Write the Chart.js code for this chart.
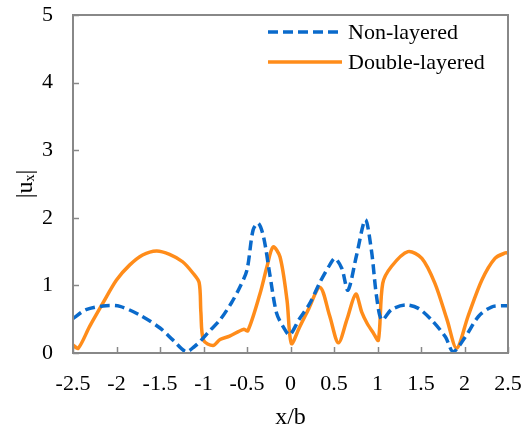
<!DOCTYPE html>
<html>
<head>
<meta charset="utf-8">
<script src="https://cdn.jsdelivr.net/npm/chart.js@4/dist/chart.umd.min.js"></script>
<style>
html,body{margin:0;padding:0;background:#fff;}
#wrap{width:524px;height:433px;position:relative;}
</style>
</head>
<body>
<div id="wrap"><canvas id="c" width="524" height="433"></canvas></div>
<script>
const seriesNames = ["Non-layered", "Double-layered"];
const xTickValues = [-2.5, -2, -1.5, -1, -0.5, 0, 0.5, 1, 1.5, 2, 2.5];
const yTickValues = [0, 1, 2, 3, 4, 5];

const nonLayeredX = [-2.5, -2.35, -2.12, -1.96, -1.73, -1.5, -1.35, -1.2, -1.1, -1.04, -0.95, -0.81, -0.68, -0.58, -0.5, -0.43, -0.37, -0.31, -0.24, -0.16, -0.08, -0.01, 0.1, 0.22, 0.34, 0.45, 0.51, 0.59, 0.66, 0.76, 0.86, 0.93, 0.99, 1.05, 1.16, 1.32, 1.47, 1.62, 1.78, 1.87, 2.01, 2.16, 2.31, 2.47, 2.5];
const nonLayeredY = [0.51, 0.64, 0.70, 0.69, 0.56, 0.37, 0.19, 0.02, 0.10, 0.17, 0.30, 0.49, 0.74, 0.98, 1.23, 1.82, 1.92, 1.72, 1.18, 0.59, 0.38, 0.27, 0.50, 0.73, 1.05, 1.30, 1.40, 1.25, 0.93, 1.45, 1.97, 1.52, 0.83, 0.49, 0.64, 0.71, 0.66, 0.49, 0.24, 0.02, 0.24, 0.54, 0.68, 0.70, 0.70];

const doubleLayeredX = [-2.5, -2.44, -2.31, -2.16, -2.0, -1.85, -1.7, -1.54, -1.39, -1.24, -1.12, -1.05, -1.03, -1.0, -0.89, -0.81, -0.7, -0.54, -0.49, -0.35, -0.27, -0.2, -0.12, -0.04, 0.01, 0.1, 0.2, 0.34, 0.45, 0.55, 0.65, 0.75, 0.82, 0.88, 0.95, 1.01, 1.06, 1.16, 1.35, 1.51, 1.66, 1.8, 1.91, 2.04, 2.2, 2.35, 2.47, 2.5];
const doubleLayeredY = [0.12, 0.07, 0.39, 0.73, 1.08, 1.30, 1.45, 1.51, 1.46, 1.35, 1.18, 1.04, 0.60, 0.19, 0.11, 0.20, 0.25, 0.35, 0.33, 0.88, 1.28, 1.57, 1.42, 0.78, 0.14, 0.37, 0.63, 0.97, 0.55, 0.15, 0.50, 0.87, 0.60, 0.44, 0.30, 0.19, 1.03, 1.28, 1.50, 1.40, 1.03, 0.49, 0.07, 0.54, 1.08, 1.40, 1.48, 1.48];

const BLUE = '#0A6ACB';
const ORANGE = '#FF8C1A';
const AXIS = '#888888';
const FONT = '"Liberation Serif", "Times New Roman", serif';

const toPts = (xs, ys) => xs.map((x, i) => ({x: x, y: ys[i]}));

const frameAndLegend = {
  id: 'frameAndLegend',
  afterDraw(chart) {
    const ctx = chart.ctx;
    const a = chart.chartArea;
    const xs = chart.scales.x, ys = chart.scales.y;
    ctx.save();
    ctx.strokeStyle = AXIS;
    ctx.lineWidth = 1.5;
    xTickValues.forEach(v => {
      const px = Math.round(xs.getPixelForValue(v)) + 0.5;
      ctx.beginPath(); ctx.moveTo(px, a.bottom); ctx.lineTo(px, a.bottom - 6); ctx.stroke();
    });
    yTickValues.forEach(v => {
      const py = Math.round(ys.getPixelForValue(v)) + 0.5;
      ctx.beginPath(); ctx.moveTo(a.left, py); ctx.lineTo(a.left + 6, py); ctx.stroke();
    });
    ctx.lineWidth = 2;
    ctx.strokeRect(a.left, a.top, a.right - a.left, a.bottom - a.top);
    const lx0 = a.left + 195, lx1 = a.left + 269, tx = a.left + 275;
    const rows = [a.top + 17, a.top + 47];
    chart.data.datasets.forEach((ds, i) => {
      const yy = rows[i];
      ctx.strokeStyle = ds.borderColor;
      ctx.lineWidth = ds.borderWidth;
      ctx.setLineDash(ds.borderDash || []);
      ctx.beginPath(); ctx.moveTo(lx0, yy); ctx.lineTo(lx1, yy); ctx.stroke();
      ctx.setLineDash([]);
      ctx.fillStyle = '#000';
      ctx.font = '22px ' + FONT;
      ctx.textBaseline = 'middle';
      ctx.textAlign = 'left';
      ctx.fillText(ds.label, tx, yy + 1);
    });
    ctx.restore();
  }
};

const zeroPad = s => { s.paddingLeft = 0; s.paddingRight = 0; s.paddingTop = 0; s.paddingBottom = 0; };

new Chart(document.getElementById('c'), {
  type: 'line',
  data: {
    datasets: [
      {
        label: seriesNames[0],
        data: toPts(nonLayeredX, nonLayeredY),
        borderColor: BLUE,
        borderWidth: 3.5,
        borderDash: [10, 5],
        pointRadius: 0,
        tension: 0.3,
        fill: false
      },
      {
        label: seriesNames[1],
        data: toPts(doubleLayeredX, doubleLayeredY),
        borderColor: ORANGE,
        borderWidth: 3.5,
        pointRadius: 0,
        tension: 0.3,
        fill: false
      }
    ]
  },
  options: {
    responsive: false,
    animation: false,
    events: [],
    layout: { padding: { top: 15, right: 16, left: 0, bottom: 0 } },
    plugins: { legend: { display: false }, tooltip: { enabled: false }, title: { display: false } },
    scales: {
      x: {
        type: 'linear',
        min: -2.5, max: 2.5,
        afterBuildTicks: s => { s.ticks = xTickValues.map(v => ({value: v})); },
        afterFit: s => { s.height = 80; zeroPad(s); },
        grid: { display: false, drawTicks: false },
        border: { display: false },
        ticks: {
          color: '#000',
          font: { family: FONT, size: 22 },
          padding: 18,
          maxRotation: 0,
          autoSkip: false,
          callback: v => String(v)
        },
        title: {
          display: true,
          text: 'x/b',
          color: '#000',
          font: { family: FONT, size: 24 },
          padding: { top: 0, bottom: 1 }
        }
      },
      y: {
        type: 'linear',
        min: 0, max: 5,
        afterBuildTicks: s => { s.ticks = yTickValues.map(v => ({value: v})); },
        afterFit: s => { s.width = 73; zeroPad(s); },
        grid: { display: false, drawTicks: false },
        border: { display: false },
        ticks: {
          color: '#000',
          font: { family: FONT, size: 22 },
          padding: 20,
          callback: v => String(v)
        },
        title: {
          display: true,
          text: '|uₓ|',
          color: '#000',
          font: { family: FONT, size: 24 },
          padding: { top: 11, bottom: 0 }
        }
      }
    }
  },
  plugins: [frameAndLegend]
});
</script>
</body>
</html>
